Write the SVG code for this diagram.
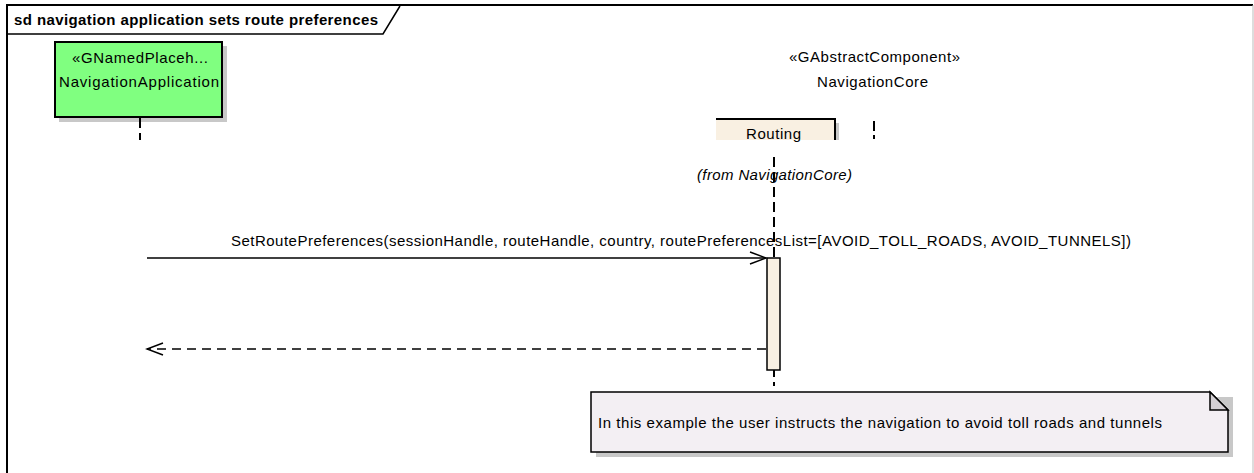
<svg xmlns="http://www.w3.org/2000/svg" width="1254" height="473" viewBox="0 0 1254 473">
<defs>
<style>
text{font-family:"Liberation Sans",Arial,sans-serif;font-size:15px;fill:#000}
.title{font-weight:bold;font-size:15px}
.it{font-style:italic}
.life{stroke:#000;stroke-width:2;stroke-dasharray:10,5;fill:none}
.msg{stroke:#000;stroke-width:1.5;fill:none}
.ret{stroke:#000;stroke-width:1.5;stroke-dasharray:9,6;fill:none}
.shadow{fill:#c8c8c8}
</style>
<marker id="open" markerWidth="20" markerHeight="14" refX="18" refY="7" orient="auto" markerUnits="userSpaceOnUse">
<path d="M2,1 L18,7 L2,13" fill="none" stroke="#000" stroke-width="1.5"/>
</marker>
</defs>
<rect width="1254" height="473" fill="#fff"/>
<g id="frame">
<path d="M7,473 L7,5 L1253,5" fill="none" stroke="#000" stroke-width="2"/>
<line x1="1253" y1="5" x2="1253" y2="473" stroke="#bbb" stroke-width="1"/>
<path d="M7,34 L383,34 L400,6" fill="none" stroke="#000" stroke-width="1.5"/>
<text class="title" x="14" y="25" textLength="364" lengthAdjust="spacing">sd navigation application sets route preferences</text>
</g>
<g id="NavigationApplication">
<rect class="shadow" x="59" y="46" width="168" height="76"/>
<rect x="55" y="42" width="167" height="75" fill="#80ff80" stroke="#000" stroke-width="2"/>
<text x="72" y="63" textLength="136" lengthAdjust="spacing">«GNamedPlaceh...</text>
<text x="59" y="87" textLength="160" lengthAdjust="spacing">NavigationApplication</text>
<path class="life" d="M140,118 L140,140"/>
</g>
<g id="NavigationCore">
<text x="789" y="62" textLength="171" lengthAdjust="spacing">«GAbstractComponent»</text>
<text x="817" y="87" textLength="111" lengthAdjust="spacing">NavigationCore</text>
<path d="M874,121 L874,131 M874,135 L874,139" stroke="#000" stroke-width="2"/>
</g>
<g id="Routing">
<rect class="shadow" x="720" y="123" width="119" height="17"/>
<rect x="716" y="119" width="119" height="21" fill="#f9f0e2"/>
<path d="M716,119 L835,119 L835,140" fill="none" stroke="#000" stroke-width="2"/>
<text x="746" y="139" textLength="55" lengthAdjust="spacing">Routing</text>
<path class="life" d="M774,157 L774,386"/>
<text class="it" x="697" y="180" textLength="155" lengthAdjust="spacing">(from NavigationCore)</text>
<rect x="767" y="258" width="13" height="112" fill="#f9f0e2" stroke="#000" stroke-width="1.5"/>
</g>
<g id="connectors">
<line class="msg" x1="147" y1="258" x2="766" y2="258" marker-end="url(#open)"/>
<text x="231" y="246" textLength="900" lengthAdjust="spacing">SetRoutePreferences(sessionHandle, routeHandle, country, routePreferencesList=[AVOID_TOLL_ROADS, AVOID_TUNNELS])</text>
<line class="ret" x1="766" y1="349" x2="147" y2="349" marker-end="url(#open)"/>
</g>
<g id="note">
<path class="shadow" d="M596,397 L1233,397 L1233,457 L596,457 Z"/>
<path d="M591,392 L1210,392 L1228,410 L1228,452 L591,452 Z" fill="#f3eff3" stroke="#000" stroke-width="1.5"/>
<path d="M1210,392 L1210,410 L1228,410 Z" fill="#d4d0d4" stroke="#000" stroke-width="1.5"/>
<text x="598" y="428" textLength="564" lengthAdjust="spacing">In this example the user instructs the navigation to avoid toll roads and tunnels</text>
</g>
</svg>
